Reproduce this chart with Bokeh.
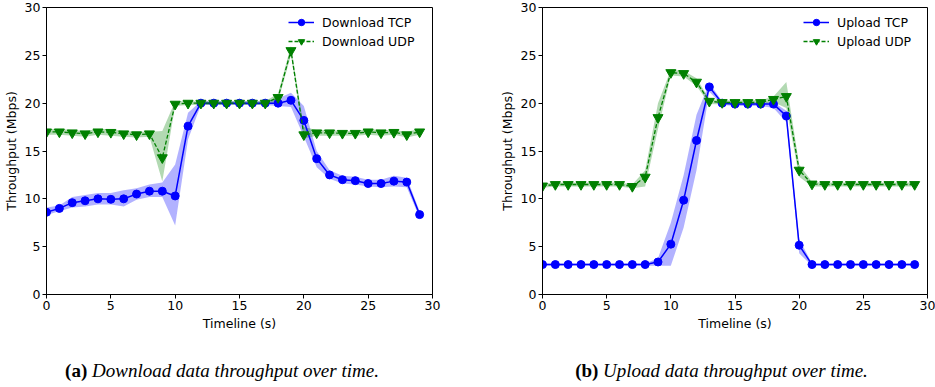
from bokeh.plotting import figure
from bokeh.models import Range1d, Div, Legend, LegendItem
from bokeh.layouts import row, column
from bokeh.embed import file_html
from bokeh.resources import INLINE

t = [0, 1, 2, 3, 4, 5, 6, 7, 8, 9, 10, 11, 12, 13, 14, 15, 16, 17, 18, 19,
     20, 21, 22, 23, 24, 25, 26, 27, 28, 29]
ticks = [0, 5, 10, 15, 20, 25, 30]

dl_tcp = [8.6, 9.0, 9.6, 9.8, 10.0, 9.95, 10.0, 10.5, 10.8, 10.8, 10.3, 17.6, 20.0, 20.0, 20.0,
          20.0, 20.0, 20.0, 20.0, 20.3, 18.2, 14.2, 12.5, 12.0, 11.9, 11.6, 11.6, 11.85, 11.75, 8.35]
dl_tcp_lo = [8.3, 8.7, 9.1, 9.2, 9.4, 9.4, 9.2, 9.9, 10.2, 10.2, 7.2, 16.2, 19.8, 19.8, 19.8,
             19.8, 19.8, 19.8, 19.7, 19.6, 16.5, 13.3, 12.1, 11.6, 11.5, 11.3, 11.2, 11.3, 11.2, 8.0]
dl_tcp_hi = [9.1, 9.3, 10.2, 10.4, 10.6, 10.6, 10.9, 11.1, 11.5, 11.7, 13.6, 19.0, 20.2, 20.2, 20.2,
             20.2, 20.2, 20.2, 20.5, 21.1, 19.7, 15.0, 13.0, 12.4, 12.3, 12.0, 12.0, 12.4, 12.2, 8.7]

dl_udp = [17.0, 17.0, 16.9, 16.8, 17.0, 16.95, 16.8, 16.7, 16.8, 14.3, 19.9, 20.0, 20.0, 20.0, 20.0,
          20.0, 20.0, 20.0, 20.6, 25.5, 16.7, 16.9, 16.9, 16.85, 16.85, 17.0, 16.9, 16.95, 16.7, 17.0]
dl_udp_lo = [16.7, 16.7, 16.6, 16.5, 16.7, 16.6, 16.5, 16.4, 16.5, 11.8, 19.7, 19.8, 19.8, 19.8, 19.8,
             19.8, 19.8, 19.8, 20.2, 25.0, 16.3, 16.6, 16.6, 16.6, 16.6, 16.7, 16.6, 16.7, 16.4, 16.7]
dl_udp_hi = [17.3, 17.3, 17.2, 17.1, 17.3, 17.3, 17.1, 17.0, 17.0, 17.1, 20.2, 20.2, 20.2, 20.2, 20.2,
             20.2, 20.2, 20.2, 21.0, 26.0, 17.5, 17.2, 17.2, 17.1, 17.1, 17.3, 17.2, 17.2, 17.0, 17.3]

up_tcp = [3.13, 3.13, 3.13, 3.13, 3.13, 3.13, 3.13, 3.13, 3.13, 3.4, 5.26, 9.86, 16.1, 21.7, 20.0,
          19.9, 19.9, 19.9, 19.9, 18.66, 5.15, 3.13, 3.13, 3.13, 3.13, 3.13, 3.13, 3.13, 3.13, 3.13]
up_tcp_lo = [3.0, 3.0, 3.0, 3.0, 3.0, 3.0, 3.0, 3.0, 3.0, 3.0, 3.0, 7.0, 13.0, 21.2, 19.8,
             19.7, 19.7, 19.7, 19.5, 18.0, 4.3, 3.0, 3.0, 3.0, 3.0, 3.0, 3.0, 3.0, 3.0, 3.0]
up_tcp_hi = [3.25, 3.25, 3.25, 3.25, 3.25, 3.25, 3.25, 3.25, 3.25, 3.8, 7.5, 12.5, 18.8, 22.1, 20.2,
             20.1, 20.1, 20.1, 20.1, 19.2, 5.8, 3.25, 3.25, 3.25, 3.25, 3.25, 3.25, 3.25, 3.25, 3.25]

up_udp = [11.35, 11.5, 11.5, 11.5, 11.5, 11.5, 11.5, 11.3, 12.27, 18.5, 23.2, 23.1, 22.2, 20.2, 20.07,
          20.07, 20.07, 20.07, 20.4, 20.7, 13.0, 11.55, 11.5, 11.5, 11.5, 11.5, 11.5, 11.5, 11.5, 11.5]
up_udp_lo = [11.15, 11.3, 11.3, 11.3, 11.3, 11.3, 11.3, 11.1, 11.3, 17.3, 22.9, 22.8, 21.8, 19.9, 19.85,
             19.85, 19.85, 19.85, 20.1, 19.5, 12.3, 11.3, 11.3, 11.3, 11.3, 11.3, 11.3, 11.3, 11.3, 11.3]
up_udp_hi = [11.55, 11.7, 11.7, 11.7, 11.7, 11.7, 11.7, 11.5, 13.0, 20.0, 23.5, 23.4, 22.6, 20.4, 20.3,
             20.3, 20.3, 20.3, 20.7, 22.2, 13.6, 11.75, 11.7, 11.7, 11.7, 11.7, 11.7, 11.7, 11.7, 11.7]

BLUE = "#0000ff"
GREEN = "#008000"
FONT = "DejaVu Sans"
FS = "12.5px"


def make_fig(width, mbl, mbr, tcp, tcp_lo, tcp_hi, udp, udp_lo, udp_hi, lab_tcp, lab_udp, leg_loc):
    p = figure(width=width, height=333, x_range=Range1d(0, 30), y_range=Range1d(0, 30),
               output_backend="svg", toolbar_location=None,
               min_border_left=mbl, min_border_right=mbr, min_border_top=7, min_border_bottom=35)
    p.grid.visible = False
    p.outline_line_color = "black"
    p.outline_line_alpha = 1.0
    p.outline_line_width = 1
    for ax in (p.xaxis[0], p.yaxis[0]):
        ax.ticker = ticks
        ax.minor_tick_line_color = None
        ax.major_tick_in = 0
        ax.major_tick_out = 4
        ax.major_tick_line_color = "black"
        ax.axis_line_color = "black"
        ax.major_label_text_font = FONT
        ax.major_label_text_font_size = FS
        ax.major_label_text_color = "black"
        ax.major_label_standoff = 2
        ax.axis_label_text_font = FONT
        ax.axis_label_text_font_size = FS
        ax.axis_label_text_font_style = "normal"
        ax.axis_label_text_color = "black"
        ax.axis_label_standoff = 3
    p.xaxis.axis_label = "Timeline (s)"
    p.yaxis.axis_label = "Throughput (Mbps)"

    p.varea(x=t, y1=tcp_lo, y2=tcp_hi, fill_color=BLUE, fill_alpha=0.3)
    p.varea(x=t, y1=udp_lo, y2=udp_hi, fill_color=GREEN, fill_alpha=0.3)

    l1 = p.line(t, tcp, line_color=BLUE, line_width=1.5)
    s1 = p.scatter(t, tcp, marker="circle", size=8, fill_color=BLUE, line_color=BLUE)
    l2 = p.line(t, udp, line_color=GREEN, line_width=1.3, line_dash="4 2")
    s2 = p.scatter(t, udp, marker="inverted_triangle", size=10, fill_color=GREEN, line_color=GREEN)

    legend = Legend(items=[LegendItem(label=lab_tcp, renderers=[l1, s1]),
                           LegendItem(label=lab_udp, renderers=[l2, s2])],
                    location=leg_loc)
    legend.border_line_color = None
    legend.background_fill_alpha = 0
    legend.padding = 2
    legend.margin = 0
    legend.spacing = 3
    legend.glyph_width = 26
    legend.glyph_height = 16
    legend.label_height = 16
    legend.label_standoff = 8
    legend.label_text_font = FONT
    legend.label_text_font_size = FS
    legend.label_text_color = "black"
    p.add_layout(legend)
    return p


pa = make_fig(496, 46, 64, dl_tcp, dl_tcp_lo, dl_tcp_hi, dl_udp, dl_udp_lo, dl_udp_hi,
              "Download TCP", "Download UDP", (242, 245))
pb = make_fig(439, 46, 8, up_tcp, up_tcp_lo, up_tcp_hi, up_udp, up_udp_lo, up_udp_hi,
              "Upload TCP", "Upload UDP", (261, 245))

cap_style = ("font-family:'Liberation Serif';font-size:19px;line-height:22px;text-align:center;"
             "margin-top:22px;color:black;white-space:nowrap;")
ca = Div(text=f"<div style=\"{cap_style}width:434px\"><b>(a)</b> <i>Download data throughput over time.</i></div>",
         width=496, height=54)
cb = Div(text=f"<div style=\"{cap_style}width:421px\"><b>(b)</b> <i>Upload data throughput over time.</i></div>",
         width=439, height=54)

layout = column(row(pa, pb), row(ca, cb))
open("out.html", "w").write(file_html(layout, INLINE))
